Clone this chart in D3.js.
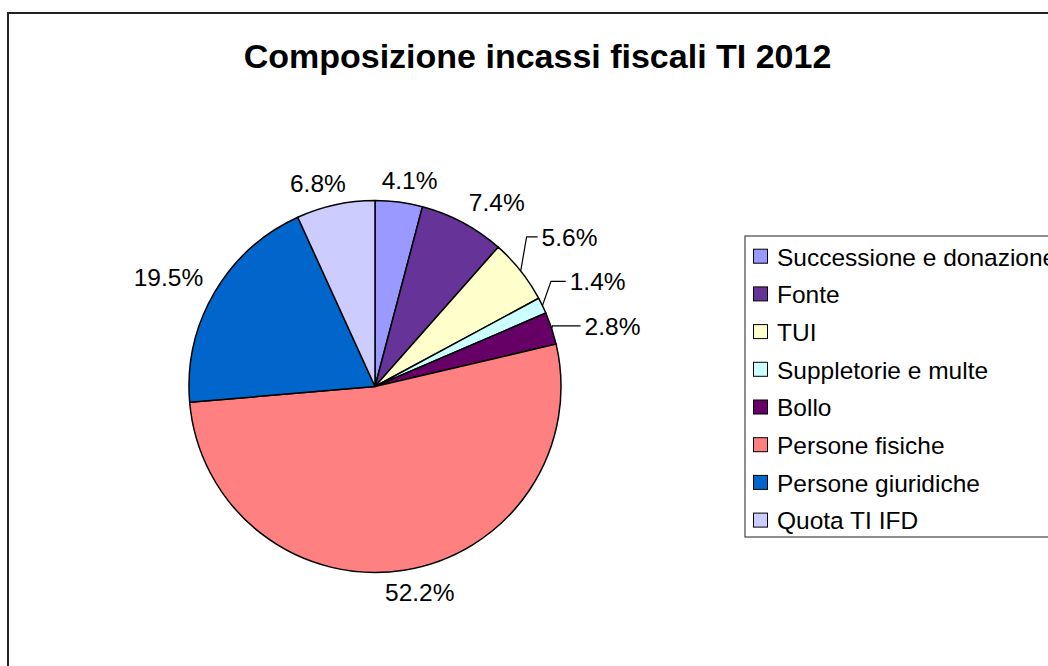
<!DOCTYPE html>
<html>
<head>
<meta charset="utf-8">
<script src="https://cdn.jsdelivr.net/npm/d3@7"></script>
<style>
  html, body { margin: 0; padding: 0; background: #fff; }
  svg { display: block; font-family: "Liberation Sans", Arial, sans-serif; }
</style>
</head>
<body>
<svg id="chart" width="1048" height="666"></svg>
<script>
// Tax revenue composition, Ticino 2012 (percent of total)
const categories = [
  "Successione e donazione",
  "Fonte",
  "TUI",
  "Suppletorie e multe",
  "Bollo",
  "Persone fisiche",
  "Persone giuridiche",
  "Quota TI IFD"
];
const shares = [4.1, 7.4, 5.6, 1.4, 2.8, 52.2, 19.5, 6.8];
const colors = ["#9999FF", "#663399", "#FFFFCC", "#CCFFFF", "#660066", "#FF8080", "#0066CC", "#CCCCFF"];
// slices whose labels are pulled out and tied back with a leader line
const leaderLabels = ["TUI", "Suppletorie e multe", "Bollo"];
const title = "Composizione incassi fiscali TI 2012";

const W = 1048, H = 666;
const svg = d3.select("#chart");

// outer chart frame
svg.append("rect")
  .attr("x", 8).attr("y", 13)
  .attr("width", W + 40).attr("height", H + 40)
  .attr("fill", "#fff").attr("stroke", "#222").attr("stroke-width", 2);

svg.append("text")
  .attr("x", 537.5).attr("y", 68)
  .attr("text-anchor", "middle")
  .attr("font-size", 34).attr("font-weight", "bold")
  .attr("fill", "#000")
  .text(title);

const cx = 375, cy = 386.5, r = 186;
const data = categories.map((c, i) => ({ name: c, value: shares[i], color: colors[i] }));

const pie = d3.pie().sort(null).value(d => d.value);
const arcs = pie(data);
const arc = d3.arc().innerRadius(0).outerRadius(r);

const g = svg.append("g").attr("transform", `translate(${cx},${cy})`);

g.selectAll("path.slice")
  .data(arcs)
  .enter().append("path")
  .attr("class", "slice")
  .attr("d", arc)
  .attr("fill", d => d.data.color)
  .attr("stroke", "#000")
  .attr("stroke-width", 1.5)
  .attr("stroke-linejoin", "round");

const fs = 24.5;
const fmt = v => v.toFixed(1) + "%";
const mid = d => (d.startAngle + d.endAngle) / 2;
const clamp = v => Math.max(-1, Math.min(1, v));

// measure label text widths
const probe = svg.append("text").attr("font-size", fs).attr("visibility", "hidden");
function textWidth(s) { probe.text(s); return probe.node().getComputedTextLength(); }

const labelG = g.append("g");

// regular labels: box placed just outside the rim along the slice's mid angle
const R = r + 13;
arcs.filter(d => !leaderLabels.includes(d.data.name)).forEach(d => {
  const a = mid(d), s = Math.sin(a), c = Math.cos(a);
  const txt = fmt(d.data.value);
  const w = textWidth(txt), h = fs * 0.72;
  const px = R * s, py = -R * c;
  const bx = px + (w / 2) * clamp(s * 2.5);
  const by = py - (h / 2) * clamp(c * 2.5);
  labelG.append("text")
    .attr("x", bx).attr("y", by + h / 2)
    .attr("text-anchor", "middle")
    .attr("font-size", fs).attr("fill", "#000")
    .text(txt);
});

// pulled-out labels: spread vertically, then set on a wider circle
const RL = r + 38, gap = 44.5;
const pulled = arcs.filter(d => leaderLabels.includes(d.data.name))
  .map(d => ({ d, y: -RL * Math.cos(mid(d)) }));
const meanY = d3.mean(pulled, p => p.y) - 3;
pulled.forEach((p, i) => { p.y = meanY + (i - (pulled.length - 1) / 2) * gap; });
pulled.forEach((p, i) => {
  const a = mid(p.d);
  const x = Math.sqrt(Math.max(0, RL * RL - p.y * p.y)) - i * 3;
  const ex = r * Math.sin(a), ey = -r * Math.cos(a);
  const tx = x;
  const elbowX = Math.min(tx - 15, ex + Math.abs(p.y - ey) * 0.35);
  labelG.append("path")
    .attr("d", `M${ex},${ey}L${elbowX},${p.y}L${tx - 4},${p.y}`)
    .attr("fill", "none").attr("stroke", "#000").attr("stroke-width", 1.2);
  labelG.append("text")
    .attr("x", tx).attr("y", p.y + fs * 0.36)
    .attr("font-size", fs).attr("fill", "#000")
    .text(fmt(p.d.data.value));
});

probe.remove();

// legend
const lg = svg.append("g");
const legTop = 236, legLeft = 745, rowH = 37.7, firstRow = 256.7;
lg.append("rect")
  .attr("x", legLeft).attr("y", legTop)
  .attr("width", 400).attr("height", 301)
  .attr("fill", "#fff").attr("stroke", "#444").attr("stroke-width", 1.2);

const rows = lg.selectAll("g.row")
  .data(data)
  .enter().append("g")
  .attr("class", "row")
  .attr("transform", (d, i) => `translate(${legLeft}, ${firstRow + i * rowH})`);

rows.append("rect")
  .attr("x", 8.5).attr("y", -7.5)
  .attr("width", 14).attr("height", 14)
  .attr("fill", d => d.color)
  .attr("stroke", "#000").attr("stroke-width", 1);

rows.append("text")
  .attr("x", 32).attr("y", 24.5 * 0.36)
  .attr("font-size", 24.5).attr("fill", "#000")
  .text(d => d.name);
</script>
</body>
</html>
